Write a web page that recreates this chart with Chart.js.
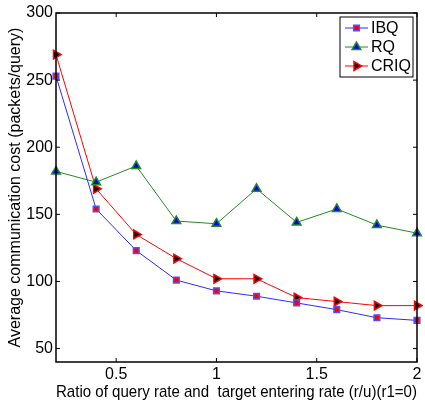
<!DOCTYPE html>
<html>
<head>
<meta charset="utf-8">
<script src="https://cdn.jsdelivr.net/npm/chart.js@4/dist/chart.umd.min.js"></script>
<style>
  body { margin: 0; background: #fff; }
  canvas { display: block; }
</style>
</head>
<body>
<canvas id="chart" width="425" height="403"></canvas>
<script>
// data
const ratios = [0.2, 0.4, 0.6, 0.8, 1.0, 1.2, 1.4, 1.6, 1.8, 2.0];
const ibq  = [253, 154, 123, 101, 93, 89, 84, 79, 73, 71];
const rq   = [182, 174, 186, 145, 143, 169, 144, 154, 142, 136];
const criq = [269, 169, 135, 117, 102, 102, 88, 85, 82, 82];
const xTicks = [0.5, 1, 1.5, 2];
const yTicks = [50, 100, 150, 200, 250, 300];

const FONT = 'Liberation Sans, Arial, sans-serif';

const toPoints = (vals) => vals.map((v, i) => ({ x: ratios[i], y: v }));

// box frame, inward ticks and the legend inside the plot (matlab look)
const framePlugin = {
    id: 'frame',
    afterDraw(chart) {
        const c = chart.ctx;
        const a = chart.chartArea;
        const xs = chart.scales.x;
        const ys = chart.scales.y;
        c.save();
        c.strokeStyle = '#000';
        c.lineWidth = 1;
        xTicks.forEach(t => {
            const px = xs.getPixelForValue(t);
            c.beginPath();
            c.moveTo(px, a.bottom); c.lineTo(px, a.bottom - 4);
            c.moveTo(px, a.top); c.lineTo(px, a.top + 4);
            c.stroke();
        });
        yTicks.forEach(t => {
            const py = ys.getPixelForValue(t);
            c.beginPath();
            c.moveTo(a.left, py); c.lineTo(a.left + 4, py);
            c.moveTo(a.right, py); c.lineTo(a.right - 4, py);
            c.stroke();
        });
        c.lineWidth = 1.5;
        c.strokeRect(a.left, a.top, a.right - a.left, a.bottom - a.top);

        // legend
        const bx = a.right - 77, by = a.top + 4, bw = 73, bh = 60;
        c.fillStyle = '#fff';
        c.fillRect(bx, by, bw, bh);
        c.lineWidth = 1;
        c.strokeRect(bx, by, bw, bh);
        c.font = '16px ' + FONT;
        c.textBaseline = 'middle';
        chart.data.datasets.forEach((ds, i) => {
            const ly = by + 11 + i * 19;
            c.strokeStyle = ds.borderColor;
            c.lineWidth = 1;
            c.beginPath();
            c.moveTo(bx + 5, ly); c.lineTo(bx + 28, ly);
            c.stroke();
            c.fillStyle = ds.pointBackgroundColor;
            c.strokeStyle = ds.pointBorderColor;
            c.lineWidth = ds.pointBorderWidth;
            Chart.helpers.drawPoint(c, {
                pointStyle: ds.pointStyle,
                rotation: ds.pointRotation || 0,
                radius: ds.pointRadius,
                borderWidth: ds.pointBorderWidth
            }, bx + 16.5, ly);
            c.fillStyle = '#000';
            c.fillText(ds.label, bx + 31, ly + 1);
        });
        c.restore();
    }
};

new Chart(document.getElementById('chart'), {
    type: 'line',
    data: {
        datasets: [
            {
                label: 'IBQ',
                data: toPoints(ibq),
                borderColor: '#2b2bff',
                borderWidth: 1,
                pointStyle: 'rect',
                pointRadius: 4,
                pointBackgroundColor: '#ff0000',
                pointBorderColor: '#5050ff',
                pointBorderWidth: 1.5,
                clip: false
            },
            {
                label: 'RQ',
                data: toPoints(rq),
                borderColor: '#228b22',
                borderWidth: 1,
                pointStyle: 'triangle',
                pointRadius: 5,
                pointBackgroundColor: '#0000ff',
                pointBorderColor: '#228b22',
                pointBorderWidth: 1.5,
                clip: false
            },
            {
                label: 'CRIQ',
                data: toPoints(criq),
                borderColor: '#ff0000',
                borderWidth: 1,
                pointStyle: 'triangle',
                pointRotation: 90,
                pointRadius: 5,
                pointBackgroundColor: '#000000',
                pointBorderColor: '#ff0000',
                pointBorderWidth: 1.5,
                clip: false
            }
        ]
    },
    options: {
        responsive: false,
        animation: false,
        layout: { padding: { top: 13, right: 8, left: 6, bottom: 0 } },
        plugins: {
            legend: { display: false },
            tooltip: { enabled: false }
        },
        elements: { line: { tension: 0 } },
        scales: {
            x: {
                type: 'linear',
                min: 0.2,
                max: 2,
                grid: { display: false, drawTicks: false },
                border: { display: false },
                afterBuildTicks: (s) => { s.ticks = xTicks.map(v => ({ value: v })); },
                afterFit: (s) => { s.height = 41; },
                ticks: {
                    color: '#000',
                    padding: 3,
                    font: { family: FONT, size: 16 },
                    callback: (v) => String(v)
                },
                title: {
                    display: true,
                    text: 'Ratio of query rate and  target entering rate (r/u)(r1=0)',
                    color: '#000',
                    padding: { top: -5, bottom: 0 },
                    font: { family: FONT, size: 17 }
                }
            },
            y: {
                min: 40,
                max: 300,
                grid: { display: false, drawTicks: false },
                border: { display: false },
                afterBuildTicks: (s) => { s.ticks = yTicks.map(v => ({ value: v })); },
                afterFit: (s) => { s.width = 50; },
                ticks: {
                    color: '#000',
                    padding: 3,
                    font: { family: FONT, size: 16 }
                },
                title: {
                    display: true,
                    text: 'Average communication cost (packets/query)',
                    color: '#000',
                    padding: { top: 0, bottom: 2 },
                    font: { family: FONT, size: 16 }
                }
            }
        }
    },
    plugins: [framePlugin]
});
</script>
</body>
</html>
